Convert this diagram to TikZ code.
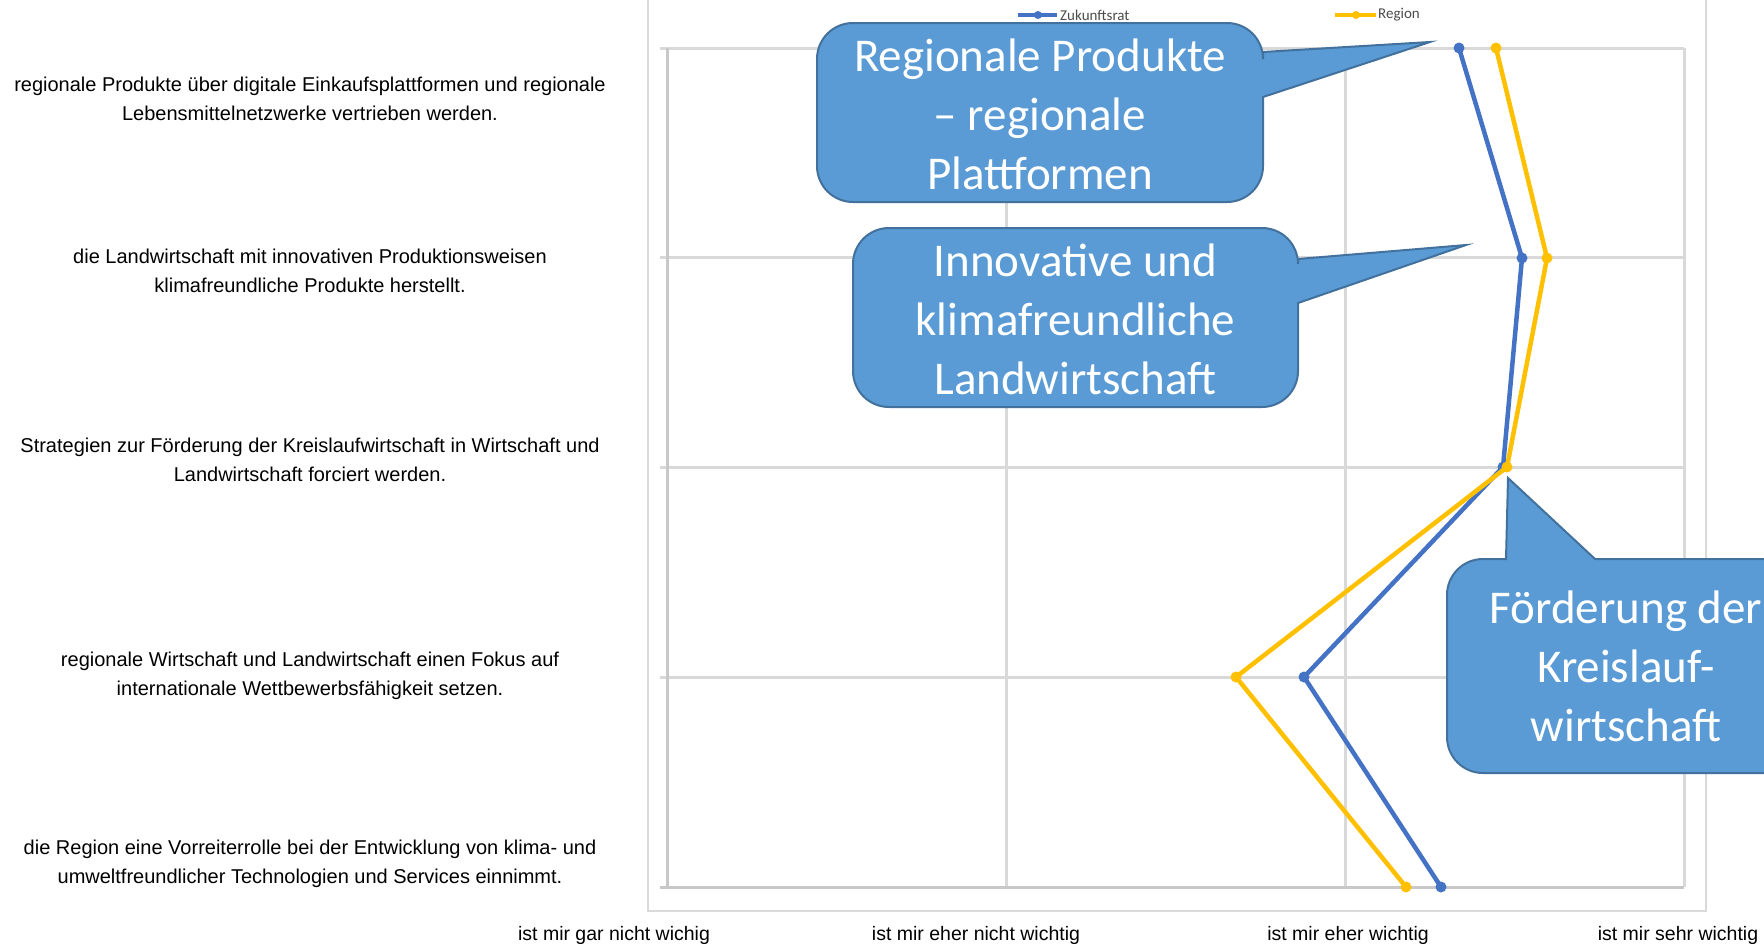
\documentclass[tikz,border=0pt]{standalone}
\usepackage{fontspec}
\setmainfont{Liberation Sans}
\newfontfamily\calib{Carlito}
\definecolor{zblue}{HTML}{4472C4}
\definecolor{ryellow}{HTML}{FFC000}
\definecolor{callfill}{HTML}{5B9BD5}
\definecolor{calldraw}{HTML}{41719C}
\definecolor{gridc}{HTML}{D9D9D9}
\definecolor{axisc}{HTML}{C8C8C8}
\begin{document}
\begin{tikzpicture}[x=1pt,y=-1pt,
  gridline/.style={draw=gridc,line width=3},
  axisline/.style={draw=axisc,line width=3},
  chartframe/.style={draw=gridc,line width=2},
  series/.style={line width=4.5,line join=round,line cap=round},
  dot/.style={circle,inner sep=0pt,minimum size=11},
  callout/.style={fill=callfill,draw=calldraw,line width=2,line join=miter},
  calltext/.style={text=white,font=\calib\fontsize{47}{59}\selectfont,align=center,inner sep=0pt},
  qtext/.style={font=\fontsize{20}{29}\selectfont,align=center,inner sep=0pt},
  axlabel/.style={font=\fontsize{19.5}{24}\selectfont,inner sep=0pt},
  legtext/.style={font=\calib\fontsize{15}{18}\selectfont,text=black!70,anchor=west,inner sep=0pt}]
\useasboundingbox (0,0) rectangle (1764,945);
\clip (0,0) rectangle (1764,945);
\fill[white] (0,0) rectangle (1764,945);
% chart frame
\draw[chartframe] (648,-10) rectangle (1706,911);
% grid
\foreach \y in {48,257.75,467.5,677.25} \draw[gridline] (660,\y) -- (1684,\y);
\foreach \x in {1006,1345,1684} \draw[gridline] (\x,48) -- (\x,887);
\draw[axisline] (667,48) -- (667,887);
\draw[axisline] (660,887) -- (1684,887);
% data
\coordinate (b1) at (1459,48);
\coordinate (b2) at (1522,258);
\coordinate (b3) at (1503,467);
\coordinate (b4) at (1304,677);
\coordinate (b5) at (1441,887);
\coordinate (y1) at (1496,48);
\coordinate (y2) at (1547,258);
\coordinate (y3) at (1507,467);
\coordinate (y4) at (1236,677);
\coordinate (y5) at (1406,887);
\draw[series,draw=zblue] (b1) -- (b2) -- (b3) -- (b4) -- (b5);
\foreach \i in {1,...,5} \node[dot,fill=zblue] (bm\i) at (b\i) {};
\draw[series,draw=ryellow] (y1) -- (y2) -- (y3) -- (y4) -- (y5);
\foreach \i in {1,...,5} \node[dot,fill=ryellow] (ym\i) at (y\i) {};
% legend
\coordinate (lb1) at (1018,15);
\coordinate (lb2) at (1057,15);
\draw[line width=4,draw=zblue] (lb1) -- (lb2);
\node[dot,fill=zblue,minimum size=8] (lbm) at (1038,15) {};
\node[legtext] (lbt) at (1060,15) {Zukunftsrat};
\coordinate (ly1) at (1335,15);
\coordinate (ly2) at (1376,15);
\draw[line width=4,draw=ryellow] (ly1) -- (ly2);
\node[dot,fill=ryellow,minimum size=8] (lym) at (1356,15) {};
\node[legtext] (lyt) at (1378,15) {Region};
% questions
\node[qtext] (q1) at (310,99) {regionale Produkte über digitale Einkaufsplattformen und regionale\\Lebensmittelnetzwerke vertrieben werden.};
\node[qtext] (q2) at (310,270.5) {die Landwirtschaft mit innovativen Produktionsweisen\\klimafreundliche Produkte herstellt.};
\node[qtext] (q3) at (310,460) {Strategien zur Förderung der Kreislaufwirtschaft in Wirtschaft und\\Landwirtschaft forciert werden.};
\node[qtext] (q4) at (310,675.5) {regionale Wirtschaft und Landwirtschaft einen Fokus auf\\internationale Wettbewerbsfähigkeit setzen.};
\node[qtext] (q5) at (310,863.5) {die Region eine Vorreiterrolle bei der Entwicklung von klima- und\\umweltfreundlicher Technologien und Services einnimmt.};
% axis labels
\node[axlabel] (a1) at (614,935) {ist mir gar nicht wichig};
\node[axlabel] (a2) at (976,935) {ist mir eher nicht wichtig};
\node[axlabel] (a3) at (1348,935) {ist mir eher wichtig};
\node[axlabel] (a4) at (1678,935) {ist mir sehr wichtig};
% callout 1
\draw[callout] (853,23) -- (1227,23) arc[start angle=270,end angle=360,radius=36] -- (1263,52) -- (1430,42) -- (1263,97) -- (1263,166) arc[start angle=0,end angle=90,radius=36] -- (853,202) arc[start angle=90,end angle=180,radius=36] -- (817,59) arc[start angle=180,end angle=270,radius=36] -- cycle;
\node[calltext] (c1) at (1040,114) {Regionale Produkte\\– regionale\\Plattformen};
% callout 2
\draw[callout] (889,228) -- (1262,228) arc[start angle=270,end angle=360,radius=36] -- (1298,259) -- (1466,245) -- (1298,303) -- (1298,371) arc[start angle=0,end angle=90,radius=36] -- (889,407) arc[start angle=90,end angle=180,radius=36] -- (853,264) arc[start angle=180,end angle=270,radius=36] -- cycle;
\node[calltext] (c2) at (1075.5,319) {Innovative und\\klimafreundliche\\Landwirtschaft};
% callout 3
\draw[callout] (1483,559) -- (1506,559) -- (1508,478) -- (1595,559) -- (1774,559) arc[start angle=270,end angle=360,radius=36] -- (1810,737) arc[start angle=0,end angle=90,radius=36] -- (1483,773) arc[start angle=90,end angle=180,radius=36] -- (1447,595) arc[start angle=180,end angle=270,radius=36] -- cycle;
\node[calltext] (c3) at (1626,666) {Förderung der\\Kreislauf-\\wirtschaft};
\end{tikzpicture}
\end{document}
